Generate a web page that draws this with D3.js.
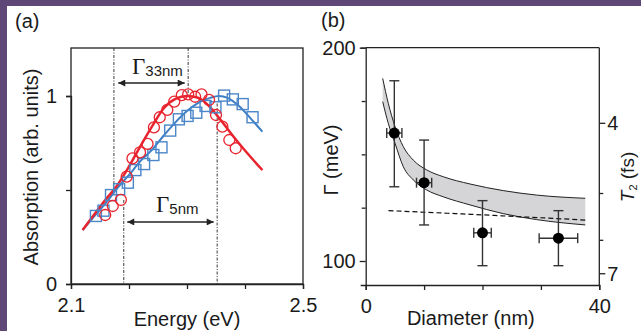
<!DOCTYPE html>
<html><head><meta charset="utf-8">
<script src="https://cdn.jsdelivr.net/npm/d3@7"></script>
<style>
html,body{margin:0;padding:0;background:#fff;}
svg{display:block;}
text{font-family:"Liberation Sans",Arial,sans-serif;fill:#1a1a1a;}
</style></head>
<body>
<script>
// ---------- Panel (a) data ----------
const energyTicks = [2.1, 2.2, 2.3, 2.4, 2.5];
const energyTickLabels = ["2.1", "", "", "", "2.5"];
const absTicks = [0, 0.5, 1];
const absTickLabels = ["0", "", "1"];

const redE = [2.159,2.172,2.186,2.196,2.206,2.219,2.232,2.243,2.253,2.266,2.278,2.291,2.302,2.314,2.325,2.338,2.350,2.361,2.373,2.384];
const redA = [0.367,0.415,0.447,0.571,0.668,0.700,0.745,0.833,0.887,0.926,0.970,1.005,1.009,0.996,1.009,0.979,0.899,0.837,0.766,0.722];
const blueE = [2.143,2.156,2.169,2.183,2.198,2.211,2.226,2.242,2.256,2.271,2.286,2.301,2.316,2.332,2.349,2.364,2.379,2.396,2.413];
const blueA = [0.362,0.390,0.473,0.504,0.539,0.606,0.638,0.686,0.727,0.816,0.876,0.894,0.911,0.947,0.940,1.002,0.982,0.957,0.887];

const redFitE = [2.12,2.14,2.16,2.18,2.20,2.22,2.24,2.26,2.28,2.30,2.32,2.34,2.36,2.38,2.40,2.43];
const redFitA = [0.287,0.37,0.45,0.526,0.625,0.735,0.84,0.935,0.985,1.0,0.99,0.94,0.865,0.785,0.71,0.606];
const blueFitE = [2.12,2.14,2.16,2.18,2.20,2.22,2.24,2.26,2.28,2.30,2.32,2.34,2.355,2.37,2.39,2.41,2.43];
const blueFitA = [0.287,0.36,0.43,0.51,0.58,0.655,0.715,0.79,0.86,0.92,0.965,0.99,1.0,0.99,0.945,0.88,0.81];

// half-width markers (energy, from abs, to abs) ; abs>1.2 means top of frame
const widthLinesE = [2.174, 2.302, 2.191, 2.352];
const widthLinesFrom = [1.255, 1.255, 0.447, 0.96];
const widthLinesTo = [0.518, 1.0, 0, 0];
const arrowLabels = ["33nm", "5nm"];
const arrowFromE = [2.1815, 2.197];
const arrowToE = [2.296, 2.346];
const arrowA = [1.069, 0.330];

// ---------- Panel (b) data ----------
const diamTicks = [0, 10, 20, 30, 40];
const diamTickLabels = ["0", "", "", "", "40"];
const gammaTicks = [100, 125, 150, 175, 200];
const gammaTickLabels = ["100", "", "", "", "200"];
const t2Ticks = [4, 5, 6, 7];
const t2TickLabels = ["4", "", "", "7"];

const diam = [4.9, 10.0, 20.0, 33.0];
const diamErr = [1.3, 1.3, 1.5, 3.3];
const gamma = [160.0, 136.7, 113.2, 110.7];
const gammaHi = [184.5, 156.7, 128.3, 123.6];
const gammaLo = [134.8, 116.9, 97.8, 97.8];

const bandD = [2.91,3.87,5.02,6.44,8.15,10.45,13.29,17.86,23.56,29.28,37.6];
const bandHi = [185.6,173.9,163.0,153.6,147.3,142.7,139.5,136.1,133.0,130.9,129.4];
const bandLo = [174.7,164.5,155.2,144.2,138.0,133.3,130.1,126.3,122.2,119.4,116.9];

const dashD = [3.9, 17.9, 27.6, 37.6];
const dashG = [123.6, 121.9, 120.6, 119.2];

const HBAR = 658.2; // meV*fs

// ---------- drawing ----------
const W = 641, H = 331;
const svg = d3.select("body").append("svg").attr("width", W).attr("height", H);
svg.append("rect").attr("width", W).attr("height", H).attr("fill", "#fff");
svg.append("rect").attr("x",0).attr("y",0).attr("width",W).attr("height",6).attr("fill","#5f4878");
svg.append("rect").attr("x",0).attr("y",0).attr("width",7).attr("height",H).attr("fill","#5f4878");

const axisColor = "#222";
const defs = svg.append("defs");
defs.append("marker").attr("id","ah").attr("viewBox","0 0 10 10").attr("refX",10).attr("refY",5)
  .attr("markerWidth",9).attr("markerHeight",7).attr("markerUnits","userSpaceOnUse").attr("orient","auto-start-reverse")
  .append("path").attr("d","M0,0L10,5L0,10Z").attr("fill","#222");

function styleAxis(g){
  g.selectAll("path.domain").attr("stroke", axisColor).attr("stroke-width",1.3);
  g.selectAll(".tick line").attr("stroke", axisColor).attr("stroke-width",1.3);
  g.selectAll(".tick text").attr("font-size",20).attr("fill","#1a1a1a")
    .style("font-family","'Liberation Sans',Arial,sans-serif");
}

// ===== Panel (a) =====
const xa = d3.scaleLinear().domain([2.1, 2.5]).range([71, 303]);
const ya = d3.scaleLinear().domain([0, 1]).range([284, 96]);
const aTop = 48;

const ga = svg.append("g");
ga.append("rect").attr("x",71).attr("y",aTop).attr("width",303-71).attr("height",284-aTop)
  .attr("fill","none").attr("stroke",axisColor).attr("stroke-width",1.3);

const axA = ga.append("g").attr("transform","translate(0,284)")
  .call(d3.axisBottom(xa).tickValues(energyTicks).tickSize(5).tickPadding(9)
    .tickFormat((d,i)=>energyTickLabels[i]));
styleAxis(axA);
const ayA = ga.append("g").attr("transform","translate(71,0)")
  .call(d3.axisLeft(ya).tickValues(absTicks).tickSize(5).tickPadding(9)
    .tickFormat((d,i)=>absTickLabels[i]));
styleAxis(ayA);

// width marker lines
widthLinesE.forEach((e,i)=>{
  ga.append("line").attr("x1",xa(e)).attr("x2",xa(e))
    .attr("y1", widthLinesFrom[i] > 1.2 ? aTop : ya(widthLinesFrom[i]))
    .attr("y2", ya(widthLinesTo[i]))
    .attr("stroke","#222").attr("stroke-width",0.9).attr("stroke-dasharray","3,1.5,1,1.5");
});

// fits
const lineA = d3.line().x(d=>xa(d[0])).y(d=>ya(d[1])).curve(d3.curveMonotoneX);
ga.append("path").attr("d", lineA(blueFitE.map((e,i)=>[e,blueFitA[i]])))
  .attr("fill","none").attr("stroke","#3d7ec4").attr("stroke-width",2);
ga.append("path").attr("d", lineA(redFitE.map((e,i)=>[e,redFitA[i]])))
  .attr("fill","none").attr("stroke","#e8242e").attr("stroke-width",2.5);

// markers
ga.selectAll("rect.sq").data(blueE.map((e,i)=>[e,blueA[i]])).enter().append("rect")
  .attr("x",d=>xa(d[0])-5.5).attr("y",d=>ya(d[1])-5.5).attr("width",11).attr("height",11)
  .attr("fill","none").attr("stroke","#4a86c8").attr("stroke-width",1.4);
ga.selectAll("circle.rc").data(redE.map((e,i)=>[e,redA[i]])).enter().append("circle")
  .attr("cx",d=>xa(d[0])).attr("cy",d=>ya(d[1])).attr("r",5.5)
  .attr("fill","none").attr("stroke","#e8242e").attr("stroke-width",1.3);

// arrows + labels
arrowLabels.forEach((lab,i)=>{
  const y = ya(arrowA[i]);
  ga.append("line").attr("x1",xa(arrowFromE[i])).attr("x2",xa(arrowToE[i])).attr("y1",y).attr("y2",y)
    .attr("stroke","#222").attr("stroke-width",1.6)
    .attr("marker-start","url(#ah)").attr("marker-end","url(#ah)");
});
const lab33 = ga.append("text").attr("x",132).attr("y",74);
lab33.append("tspan").text("Γ").style("font-family","'Liberation Serif','Times New Roman',serif").attr("font-size",23);
lab33.append("tspan").text(arrowLabels[0]).attr("font-size",15).attr("dy",2);
const lab5 = ga.append("text").attr("x",156).attr("y",212);
lab5.append("tspan").text("Γ").style("font-family","'Liberation Serif','Times New Roman',serif").attr("font-size",23);
lab5.append("tspan").text(arrowLabels[1]).attr("font-size",15).attr("dy",2);

ga.append("text").attr("transform","translate(38,167) rotate(-90)").attr("text-anchor","middle")
  .attr("font-size",20).text("Absorption (arb. units)");
ga.append("text").attr("x",187).attr("y",326).attr("text-anchor","middle").attr("font-size",20).text("Energy (eV)");
svg.append("text").attr("x",15).attr("y",28).attr("font-size",20).text("(a)");

// ===== Panel (b) =====
const xb = d3.scaleLinear().domain([0, 40]).range([365.7, 599.3]);
const yb = d3.scaleLinear().domain([100, 200]).range([261, 47.7]);
const bBottom = 285, bTop = 47.7;
const gb = svg.append("g");

// band
const area = d3.area().x(d=>xb(d[0])).y0(d=>yb(d[2])).y1(d=>yb(d[1])).curve(d3.curveMonotoneX);
const bandData = bandD.map((d,i)=>[d,bandHi[i],bandLo[i]]);
gb.append("path").attr("d", area(bandData)).attr("fill","#d5d5d7").attr("stroke","none");
const lineB = d3.line().x(d=>xb(d[0])).y(d=>yb(d[1])).curve(d3.curveMonotoneX);
gb.append("path").attr("d", lineB(bandD.map((d,i)=>[d,bandHi[i]]))).attr("fill","none").attr("stroke","#222").attr("stroke-width",1);
gb.append("path").attr("d", lineB(bandD.map((d,i)=>[d,bandLo[i]]))).attr("fill","none").attr("stroke","#222").attr("stroke-width",1);
gb.append("path").attr("d", lineB(dashD.map((d,i)=>[d,dashG[i]]))).attr("fill","none").attr("stroke","#111")
  .attr("stroke-width",1.2).attr("stroke-dasharray","5,3");

// frame
gb.append("line").attr("x1",xb(0)).attr("x2",xb(40)).attr("y1",bTop).attr("y2",bTop).attr("stroke",axisColor).attr("stroke-width",1.3);
const axB = gb.append("g").attr("transform",`translate(0,${bBottom})`)
  .call(d3.axisBottom(xb).tickValues(diamTicks).tickSize(5).tickPadding(9).tickFormat((d,i)=>diamTickLabels[i]));
styleAxis(axB);
const yLeftScale = d3.scaleLinear().domain([yb.invert(bBottom), 200]).range([bBottom, bTop]);
const ayB = gb.append("g").attr("transform",`translate(${xb(0)},0)`)
  .call(d3.axisLeft(yLeftScale).tickValues(gammaTicks).tickSize(5).tickPadding(5).tickFormat((d,i)=>gammaTickLabels[i]));
styleAxis(ayB);
ayB.selectAll(".tick line").attr("x2",(d,i)=>gammaTickLabels[i] ? -6 : -4);

// right T2 axis (non-linear: Γ = ħ/T2)
const yT2 = t => yb(HBAR / t);
const rAx = gb.append("g");
rAx.append("line").attr("x1",xb(40)).attr("x2",xb(40)).attr("y1",bTop).attr("y2",bBottom).attr("stroke",axisColor).attr("stroke-width",1.3);
t2Ticks.forEach((t,i)=>{
  rAx.append("line").attr("x1",xb(40)).attr("x2",xb(40)+(t2TickLabels[i]?6:4))
    .attr("y1",yT2(t)).attr("y2",yT2(t)).attr("stroke",axisColor).attr("stroke-width",1.3);
  if (t2TickLabels[i]) rAx.append("text").attr("x",xb(40)+8).attr("y",yT2(t)).attr("dy","0.35em")
    .attr("font-size",20).text(t2TickLabels[i]);
});

// error bars and points
const pts = diam.map((d,i)=>({d, e:diamErr[i], g:gamma[i], hi:gammaHi[i], lo:gammaLo[i]}));
const eb = gb.append("g").attr("stroke","#333").attr("stroke-width",1.4);
pts.forEach(p=>{
  eb.append("line").attr("x1",xb(p.d)).attr("x2",xb(p.d)).attr("y1",yb(p.hi)).attr("y2",yb(p.lo));
  eb.append("line").attr("x1",xb(p.d)-5).attr("x2",xb(p.d)+5).attr("y1",yb(p.hi)).attr("y2",yb(p.hi));
  eb.append("line").attr("x1",xb(p.d)-5).attr("x2",xb(p.d)+5).attr("y1",yb(p.lo)).attr("y2",yb(p.lo));
  eb.append("line").attr("x1",xb(p.d-p.e)).attr("x2",xb(p.d+p.e)).attr("y1",yb(p.g)).attr("y2",yb(p.g));
  eb.append("line").attr("x1",xb(p.d-p.e)).attr("x2",xb(p.d-p.e)).attr("y1",yb(p.g)-5).attr("y2",yb(p.g)+5);
  eb.append("line").attr("x1",xb(p.d+p.e)).attr("x2",xb(p.d+p.e)).attr("y1",yb(p.g)-5).attr("y2",yb(p.g)+5);
});
gb.selectAll("circle.pt").data(pts).enter().append("circle")
  .attr("cx",p=>xb(p.d)).attr("cy",p=>yb(p.g)).attr("r",5.5).attr("fill","#000");

// titles
gb.append("text").attr("transform","translate(338,160) rotate(-90)").attr("text-anchor","middle")
  .attr("font-size",20).text("Γ (meV)");
const t2t = gb.append("text").attr("transform","translate(634,177) rotate(-90)").attr("text-anchor","middle").attr("font-size",19);
t2t.append("tspan").text("T").attr("font-style","italic");
t2t.append("tspan").text("2").attr("font-size",11).attr("dy",3);
t2t.append("tspan").text(" (fs)").attr("dy",-3);
gb.append("text").attr("x",xb(18)).attr("y",325).attr("text-anchor","middle").attr("font-size",20).text("Diameter (nm)");
svg.append("text").attr("x",321).attr("y",27).attr("font-size",20).text("(b)");
</script>
</body></html>
